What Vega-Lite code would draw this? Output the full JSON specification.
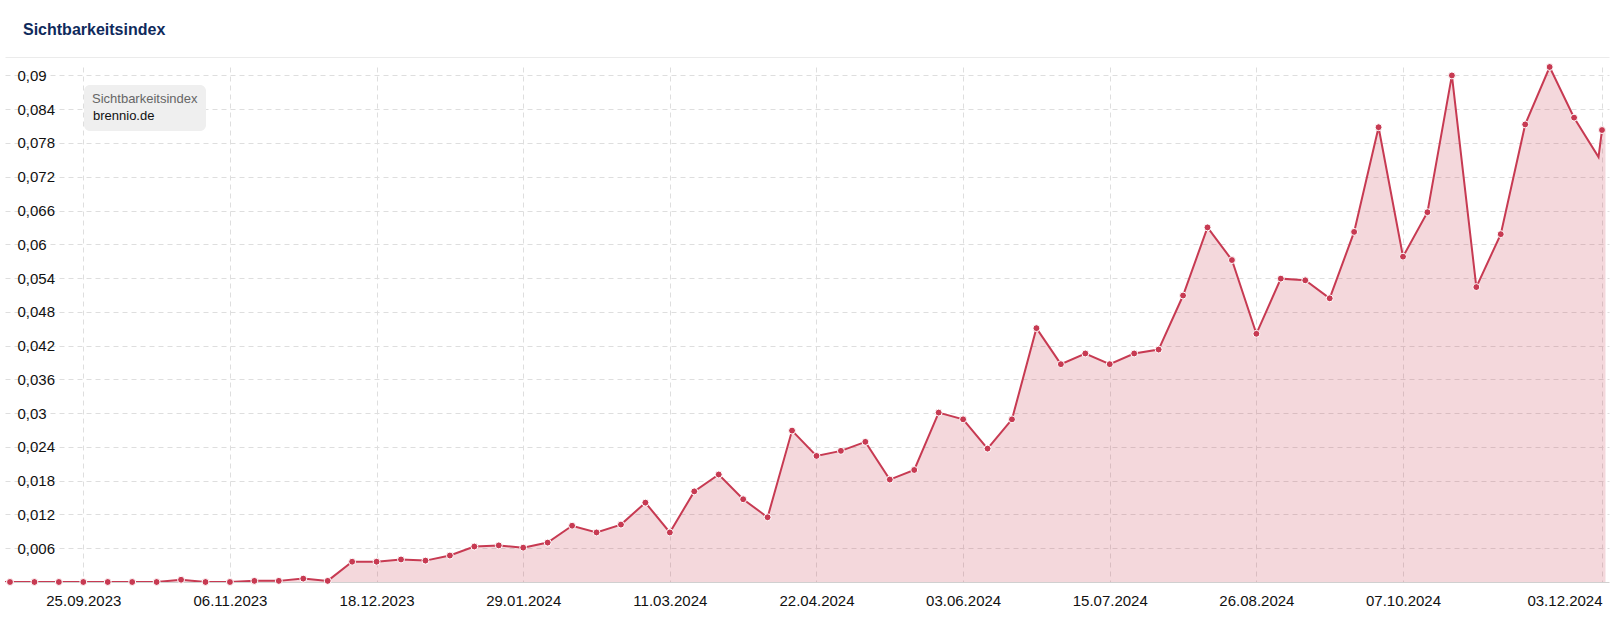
{
  "$schema": "https://vega.github.io/schema/vega-lite/v6.json",
  "width": 1604,
  "height": 515,
  "autosize": {"type": "none"},
  "padding": {"left": 5, "top": 67, "right": 3, "bottom": 40},
  "background": "#ffffff",
  "config": {"view": {"stroke": null}, "font": "Liberation Sans", "axis": {"labelOverlap": false}, "axisY": {"labelOverlap": false}},
  "title": {"text": "Sichtbarkeitsindex", "anchor": "start", "frame": "group", "dx": 18, "offset": 19, "fontSize": 16, "fontWeight": "bold", "color": "#0f2a5c", "font": "Liberation Sans"},
  "data": {"values": [
    {"date": "2023-08-28", "value": 0},
    {"date": "2023-09-04", "value": 0},
    {"date": "2023-09-11", "value": 0},
    {"date": "2023-09-18", "value": 0},
    {"date": "2023-09-25", "value": 0},
    {"date": "2023-10-02", "value": 0},
    {"date": "2023-10-09", "value": 0},
    {"date": "2023-10-16", "value": 0},
    {"date": "2023-10-23", "value": 0.0004},
    {"date": "2023-10-30", "value": 0},
    {"date": "2023-11-06", "value": 0},
    {"date": "2023-11-13", "value": 0.0002},
    {"date": "2023-11-20", "value": 0.0002},
    {"date": "2023-11-27", "value": 0.0006},
    {"date": "2023-12-04", "value": 0.0002},
    {"date": "2023-12-11", "value": 0.0036},
    {"date": "2023-12-18", "value": 0.0036},
    {"date": "2023-12-25", "value": 0.0040},
    {"date": "2024-01-01", "value": 0.0038},
    {"date": "2024-01-08", "value": 0.0047},
    {"date": "2024-01-15", "value": 0.0063},
    {"date": "2024-01-22", "value": 0.0065},
    {"date": "2024-01-29", "value": 0.0061},
    {"date": "2024-02-05", "value": 0.0070},
    {"date": "2024-02-12", "value": 0.0100},
    {"date": "2024-02-19", "value": 0.0088},
    {"date": "2024-02-26", "value": 0.0102},
    {"date": "2024-03-04", "value": 0.0141},
    {"date": "2024-03-11", "value": 0.0088},
    {"date": "2024-03-18", "value": 0.0161},
    {"date": "2024-03-25", "value": 0.0191},
    {"date": "2024-04-01", "value": 0.0147},
    {"date": "2024-04-08", "value": 0.0115},
    {"date": "2024-04-15", "value": 0.0269},
    {"date": "2024-04-22", "value": 0.0224},
    {"date": "2024-04-29", "value": 0.0233},
    {"date": "2024-05-06", "value": 0.0249},
    {"date": "2024-05-13", "value": 0.0182},
    {"date": "2024-05-20", "value": 0.0199},
    {"date": "2024-05-27", "value": 0.0301},
    {"date": "2024-06-03", "value": 0.0289},
    {"date": "2024-06-10", "value": 0.0237},
    {"date": "2024-06-17", "value": 0.0289},
    {"date": "2024-06-24", "value": 0.0451},
    {"date": "2024-07-01", "value": 0.0387},
    {"date": "2024-07-08", "value": 0.0406},
    {"date": "2024-07-15", "value": 0.0387},
    {"date": "2024-07-22", "value": 0.0406},
    {"date": "2024-07-29", "value": 0.0413},
    {"date": "2024-08-05", "value": 0.0509},
    {"date": "2024-08-12", "value": 0.0630},
    {"date": "2024-08-19", "value": 0.0572},
    {"date": "2024-08-26", "value": 0.0441},
    {"date": "2024-09-02", "value": 0.0539},
    {"date": "2024-09-09", "value": 0.0536},
    {"date": "2024-09-16", "value": 0.0504},
    {"date": "2024-09-23", "value": 0.0622},
    {"date": "2024-09-30", "value": 0.0808},
    {"date": "2024-10-07", "value": 0.0578},
    {"date": "2024-10-14", "value": 0.0657},
    {"date": "2024-10-21", "value": 0.0900},
    {"date": "2024-10-28", "value": 0.0524},
    {"date": "2024-11-04", "value": 0.0618},
    {"date": "2024-11-11", "value": 0.0813},
    {"date": "2024-11-18", "value": 0.0915},
    {"date": "2024-11-25", "value": 0.0825},
    {"date": "2024-12-02", "value": 0.0755},
    {"date": "2024-12-03", "value": 0.0803},
    {"date": "2024-12-04", "value": 0.0803}
  ]},
  "resolve": {"axis": {"x": "independent"}},
  "encoding": {
    "y": {
      "field": "value", "type": "quantitative",
      "scale": {"domain": [0, 0.0915], "nice": false, "zero": true},
      "axis": {
        "orient": "left",
        "values": [0.006, 0.012, 0.018, 0.024, 0.03, 0.036, 0.042, 0.048, 0.054, 0.06, 0.066, 0.072, 0.078, 0.084, 0.09],
        "labelExpr": "replace(format(datum.value, '.3~f'), '.', ',')",
        "labelAlign": "left",
        "labelPadding": -12,
        "labelBaseline": "middle",
        "labelFont": "Liberation Sans",
        "labelFontSize": 15,
        "labelColor": "#111111",
        "labelOverlap": false,
        "labelBound": false,
        "ticks": false,
        "tickSize": 0,
        "domain": false,
        "grid": true,
        "gridColor": "#dedede",
        "gridDash": [5, 4],
        "title": null
      }
    }
  },
  "layer": [
    {
      "mark": {"type": "area", "opacity": 0.2, "clip": true},
      "encoding": {
        "x": {
          "field": "date", "type": "temporal",
          "scale": {"type": "utc", "domain": [
            {"year": 2023, "month": 9, "date": 2, "hours": 13, "minutes": 40, "utc": true},
            {"year": 2024, "month": 12, "date": 5, "utc": true}
          ]},
          "axis": {
            "orient": "bottom",
            "values": [
              {"year": 2023, "month": 9, "date": 25, "utc": true},
              {"year": 2023, "month": 11, "date": 6, "utc": true},
              {"year": 2023, "month": 12, "date": 18, "utc": true},
              {"year": 2024, "month": 1, "date": 29, "utc": true},
              {"year": 2024, "month": 3, "date": 11, "utc": true},
              {"year": 2024, "month": 4, "date": 22, "utc": true},
              {"year": 2024, "month": 6, "date": 3, "utc": true},
              {"year": 2024, "month": 7, "date": 15, "utc": true},
              {"year": 2024, "month": 8, "date": 26, "utc": true},
              {"year": 2024, "month": 10, "date": 7, "utc": true},
              {"year": 2024, "month": 12, "date": 3, "utc": true}
            ],
            "labelExpr": "utcFormat(datum.value, '%d.%m.%Y')",
            "labelFont": "Liberation Sans",
            "labelFontSize": 15,
            "labelColor": "#111111",
            "labelPadding": 18,
            "labelBaseline": "middle",
            "labelAlign": {"condition": {"test": "datum.value > utc(2024, 10, 30)", "value": "right"}, "value": "center"},
            "labelOverlap": false,
            "labelFlush": false,
            "ticks": false,
            "tickSize": 0,
            "domain": true,
            "domainColor": "#d0d0d0",
            "grid": true,
            "gridColor": "#dedede",
            "gridDash": [5, 4],
            "title": null
          }
        },
        "color": {
          "datum": "brennio.de", "type": "nominal",
          "scale": {"range": ["#c73a52"]},
          "legend": {
            "orient": "none", "legendX": 79, "legendY": 18,
            "title": "Sichtbarkeitsindex",
            "titleFont": "Liberation Sans", "titleFontSize": 13, "titleFontWeight": "normal", "titleColor": "#666666", "titlePadding": 3,
            "labelFont": "Liberation Sans", "labelFontSize": 13, "labelColor": "#111111", "labelOffset": -12,
            "symbolSize": 0, "symbolOpacity": 0, "symbolStrokeWidth": 0,
            "fillColor": "#efefef", "cornerRadius": 6, "padding": 8
          }
        }
      }
    },
    {
      "mark": {"type": "line", "color": "#c73a52", "strokeWidth": 2, "clip": true},
      "encoding": {
        "x": {"field": "date", "type": "temporal", "axis": {"orient": "top", "labels": false, "ticks": false, "grid": false, "domain": true, "domainColor": "#ebebeb", "offset": 10, "title": null}}
      }
    },
    {
      "transform": [{"filter": "utcyear(datum.date) >= 2023 && !(utcyear(datum.date) == 2023 && utcmonth(datum.date) == 7) && !(utcyear(datum.date) == 2024 && utcmonth(datum.date) == 11 && (utcdate(datum.date) == 2 || utcdate(datum.date) == 4))"}],
      "mark": {"type": "point", "filled": true, "color": "#c73a52", "stroke": "#ffffff", "strokeWidth": 1, "size": 48, "opacity": 1},
      "encoding": {
        "x": {"field": "date", "type": "temporal", "axis": null}
      }
    }
  ]
}
